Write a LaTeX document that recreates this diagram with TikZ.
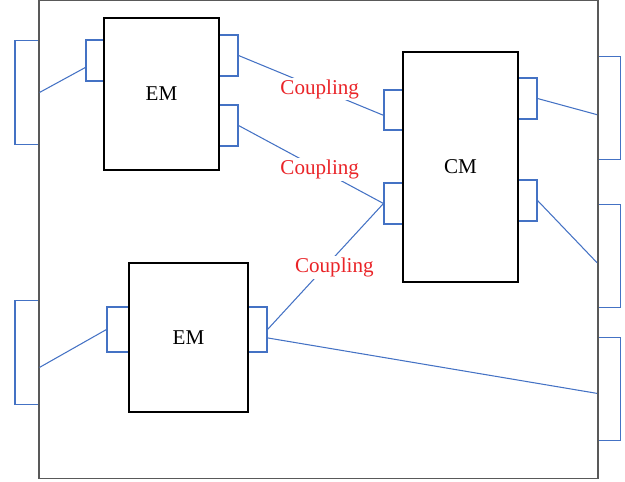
\documentclass[tikz,border=0pt]{standalone}
\usepackage{fontspec}
\setmainfont{Liberation Serif}
\definecolor{portblue}{RGB}{68,114,196}
\definecolor{framegray}{RGB}{89,89,89}
\definecolor{couplered}{RGB}{234,36,40}
\begin{document}
\begin{tikzpicture}[
    x=0.02cm, y=-0.02cm,
    module/.style={rectangle, draw=black, line width=0.6pt, inner sep=0pt, font=\fontsize{12}{14}\selectfont},
    port/.style={rectangle, draw=portblue, line width=0.6pt, inner sep=0pt, minimum width=0.38cm, minimum height=0.82cm},
    ext/.style={port, minimum width=0.46cm, minimum height=2.07cm},
    link/.style={draw=portblue, line width=0.6pt},
    coup/.style={fill=white, text=couplered, inner sep=1pt, font=\fontsize{12}{14}\selectfont}
]
    \useasboundingbox (0,0) rectangle (625,482);

    % External ports
    \node[ext, minimum width=0.48cm] (lp1) at (27,92.5) {};
    \node[ext, minimum width=0.48cm] (lp2) at (27,352.5) {};
    \node[ext] (rp1) at (609,108) {};
    \node[ext] (rp2) at (609,256) {};
    \node[ext] (rp3) at (609,389) {};

    % Module ports
    \node[port, minimum width=0.36cm] (em1in) at (95,60.5) {};
    \node[port] (em1a) at (228.5,55.5) {};
    \node[port] (em1b) at (228.5,125.5) {};
    \node[port, minimum width=0.44cm, minimum height=0.9cm] (em2in) at (118,329.5) {};
    \node[port, minimum height=0.9cm] (em2out) at (257.5,329.5) {};
    \node[port, minimum height=0.8cm] (cma) at (393.5,110) {};
    \node[port] (cmb) at (393.5,203.5) {};
    \node[port] (cmra) at (527.5,98.5) {};
    \node[port] (cmrb) at (527.5,200.5) {};

    % Modules
    \node[module, minimum width=2.3cm, minimum height=3.04cm] (em1) at (161.5,94) {EM};
    \node[module, minimum width=2.38cm, minimum height=2.98cm] (em2) at (188.5,337.5) {EM};
    \node[module, minimum width=2.3cm, minimum height=4.6cm] (cm) at (460.5,167) {CM};

    % Frame
    \node[draw=framegray, line width=0.85pt, inner sep=0pt, minimum width=11.18cm, minimum height=9.56cm] (frame) at (318.5,239.5) {};

    % Links
    \draw[link] (lp1.east) -- (em1in.216);
    \draw[link] (lp2.-50) -- (em2in.west);
    \draw[link] (em1a.east) -- node[coup, pos=0.56] {Coupling} (cma.208);
    \draw[link] (em1b.east) -- node[coup, pos=0.56] {Coupling} (cmb.west);
    \draw[link] (em2out.east) -- node[coup, pos=0.49, xshift=0.2cm] {Coupling} (cmb.west);
    \draw[link] (em2out.-40) -- (rp3.200);
    \draw[link] (cmra.east) -- (rp1.209);
    \draw[link] (cmrb.east) -- (rp2.209);
\end{tikzpicture}
\end{document}
